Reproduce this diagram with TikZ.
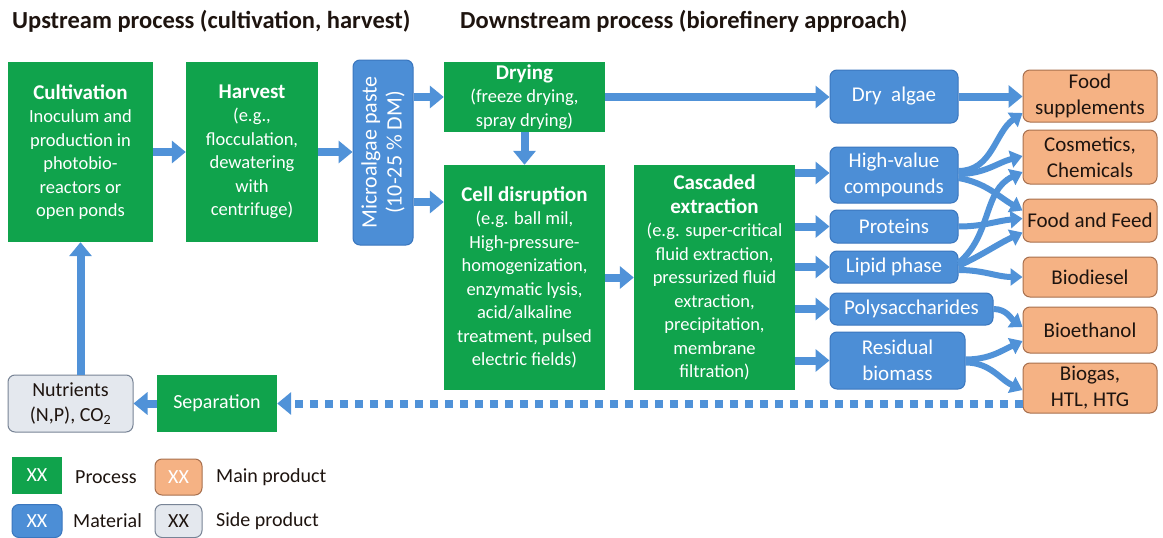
\documentclass[tikz,border=0pt]{standalone}
\usepackage{fontspec}
\setmainfont{Carlito}
\usetikzlibrary{arrows.meta}
\definecolor{pgreen}{RGB}{16,163,76}
\definecolor{mblue}{RGB}{76,142,214}
\definecolor{mborder}{RGB}{58,118,190}
\definecolor{ablue}{RGB}{80,146,216}
\definecolor{porange}{RGB}{245,178,132}
\definecolor{pborder}{RGB}{168,112,78}
\definecolor{ptext}{RGB}{30,20,15}
\definecolor{sgray}{RGB}{228,232,238}
\definecolor{sborder}{RGB}{120,132,150}
\begin{document}
\begin{tikzpicture}[x=1pt,y=-1pt,
  txt/.style={font=\fontsize{18.5}{23.5}\selectfont},
  big/.style={font=\fontsize{21}{26}\selectfont},
  proc/.style={txt,fill=pgreen,text=white,align=center,inner sep=0pt},
  mat/.style={big,fill=mblue,draw=mborder,line width=1pt,rounded corners=7pt,text=white,align=center,inner sep=0pt},
  prod/.style={big,fill=porange,draw=pborder,line width=1pt,rounded corners=7pt,text=ptext,align=center,inner sep=0pt},
  side/.style={font=\fontsize{20}{25}\selectfont,fill=sgray,draw=sborder,line width=1pt,rounded corners=7pt,text=ptext,align=center,inner sep=0pt},
  ttl/.style={font=\fontsize{24.5}{28}\selectfont\bfseries,text=ptext,anchor=west,inner sep=0pt},
  lgtxt/.style={font=\fontsize{20}{24}\selectfont,text=ptext,anchor=west,inner sep=0pt},
  arr/.style={draw=ablue,line width=8pt,-{Triangle[width=22pt,length=14pt]}},
  carr/.style={draw=ablue,line width=6pt,-{Triangle[width=17pt,length=12pt]}},
  darr/.style={draw=ablue,line width=8pt,dash pattern=on 8pt off 7pt,-{Triangle[width=22pt,length=14pt]}}
]
\newcommand{\hd}[1]{{\fontsize{21}{26}\selectfont\textbf{#1}}}
\useasboundingbox (0,0) rectangle (1163,538);
\fill[white] (0,0) rectangle (1163,538);
% titles
\node[ttl] (t1) at (12,21) {Upstream process (cultivation, harvest)};
\node[ttl] (t2) at (460,21) {Downstream process (biorefinery approach)};
% process boxes
\node[proc,minimum width=145pt,minimum height=180pt] (cult) at (80.5,152)
  {\hd{Cultivation}\\Inoculum and\\production in\\photobio-\\reactors or\\open ponds};
\node[proc,minimum width=132pt,minimum height=180pt] (harv) at (252,152)
  {\hd{Harvest}\\(e.g.,\\flocculation,\\dewatering\\with\\centrifuge)};
\node[mat,minimum width=60pt,minimum height=185pt] (paste) at (383,152.5) {};
\node[font=\fontsize{22}{25}\selectfont,text=white,align=center,rotate=90,inner sep=0pt] (pastetxt) at (paste.center)
  {Microalgae paste\\(10-25 \% DM)};
\node[proc,minimum width=161pt,minimum height=70pt] (dry) at (524.5,97)
  {\hd{Drying}\\(freeze drying,\\spray drying)};
\node[proc,minimum width=161pt,minimum height=225pt] (cell) at (524.5,277.5)
  {\hd{Cell disruption}\\(e.g. ball mil,\\High-pressure-\\homogenization,\\enzymatic lysis,\\acid/alkaline\\treatment, pulsed\\electric fields)};
\node[proc,minimum width=161pt,minimum height=225pt] (casc) at (714.5,277.5)
  {\hd{Cascaded}\\\hd{extraction}\\(e.g. super-critical\\fluid extraction,\\pressurized fluid\\extraction,\\precipitation,\\membrane\\filtration)};
% materials
\node[mat,minimum width=128pt,minimum height=53pt] (dryalg) at (894,96.5) {Dry\ \ algae};
\node[mat,minimum width=128pt,minimum height=56pt] (hv) at (894,175) {High-value\\compounds};
\node[mat,minimum width=128pt,minimum height=33pt] (prot) at (894,226.5) {Proteins};
\node[mat,minimum width=128pt,minimum height=32pt] (lip) at (894,267) {Lipid phase};
\node[mat,minimum width=163pt,minimum height=32pt] (poly) at (911.5,309) {Polysaccharides};
\node[mat,minimum width=135pt,minimum height=57pt] (resid) at (897.5,360.5) {Residual\\biomass};
% products
\node[prod,minimum width=134pt,minimum height=52pt] (fs) at (1090,96) {Food\\supplements};
\node[prod,minimum width=134pt,minimum height=54pt] (cc) at (1090,157) {Cosmetics,\\Chemicals};
\node[prod,minimum width=134pt,minimum height=43pt] (ff) at (1090,220.5) {Food and Feed};
\node[prod,minimum width=134pt,minimum height=40pt] (bd) at (1090,277) {Biodiesel};
\node[prod,minimum width=134pt,minimum height=46pt] (be) at (1090,330) {Bioethanol};
\node[prod,minimum width=134pt,minimum height=50pt] (bg) at (1090,388) {Biogas,\\HTL, HTG};
% recycle
\node[side,minimum width=125pt,minimum height=57pt] (nutr) at (70.5,403.5) {Nutrients\\(N,P), CO\textsubscript{2}};
\node[proc,font=\fontsize{20}{24}\selectfont,minimum width=120pt,minimum height=57pt] (sep) at (217,403.5) {Separation};
% main arrows
\draw[arr] (cult.east) -- (harv.west);
\draw[arr] (harv.east) -- (paste.west |- harv.east);
\draw[arr] (paste.east |- dry.west) -- (dry.west);
\draw[arr] (paste.east |- 0,202) -- (cell.west |- 0,202);
\draw[arr] (dry.south) -- (cell.north);
\draw[arr] (dry.east) -- (dryalg.west |- dry.east);
\draw[arr] (cell.east) -- (casc.west);
\draw[arr] (casc.east |- 0,173) -- (hv.west |- 0,173);
\draw[arr] (casc.east |- prot.west) -- (prot.west);
\draw[arr] (casc.east |- lip.west) -- (lip.west);
\draw[arr] (casc.east |- poly.west) -- (poly.west);
\draw[arr] (casc.east |- resid.west) -- (resid.west);
\draw[arr] (dryalg.east) -- (fs.west |- dryalg.east);
\draw[darr] (bg.west |- sep.east) -- (sep.east);
\draw[arr] (sep.west) -- (nutr.east);
\draw[arr] (cult.south |- nutr.north) -- (cult.south);
% branching curved arrows
\draw[carr] ([yshift=4pt]hv.east) to[out=0,in=215] ([yshift=-17pt]fs.west);
\draw[carr] ([yshift=1pt]hv.east) to[out=0,in=195] ([yshift=1pt]cc.west);
\draw[carr] ([yshift=-3pt]hv.east) to[out=-10,in=150] ([yshift=10pt]ff.west);
\draw[carr] (prot.east) to[out=0,in=185] ([yshift=2pt]ff.west);
\draw[carr] ([yshift=4pt]lip.east) to[out=40,in=205] ([yshift=-15pt]cc.west);
\draw[carr] ([yshift=1pt]lip.east) to[out=25,in=205] ([yshift=-12pt]ff.west);
\draw[carr] ([yshift=-3pt]lip.east) to[out=0,in=180] (bd.west);
\draw[carr] (poly.east) to[out=0,in=145] ([yshift=3pt]be.west);
\draw[carr] ([yshift=1pt]resid.east) to[out=0,in=205] ([yshift=-11pt]be.west);
\draw[carr] ([yshift=-2pt]resid.east) to[out=0,in=155] ([yshift=-2pt]bg.west);
% legend
\node[proc,font=\fontsize{20}{24}\selectfont,minimum width=50pt,minimum height=37pt] (lg1) at (37,475.5) {XX};
\node[lgtxt] (lg1t) at (75,477) {Process};
\node[prod,font=\fontsize{20}{24}\selectfont,text=white,minimum width=47pt,minimum height=36pt] (lg2) at (178.5,477) {XX};
\node[lgtxt] (lg2t) at (216,477) {Main product};
\node[mat,font=\fontsize{20}{24}\selectfont,minimum width=50pt,minimum height=33pt] (lg3) at (37,521) {XX};
\node[lgtxt] (lg3t) at (73,521) {Material};
\node[side,minimum width=47pt,minimum height=33pt] (lg4) at (178.5,521) {XX};
\node[lgtxt] (lg4t) at (216,521) {Side product};
\end{tikzpicture}
\end{document}
